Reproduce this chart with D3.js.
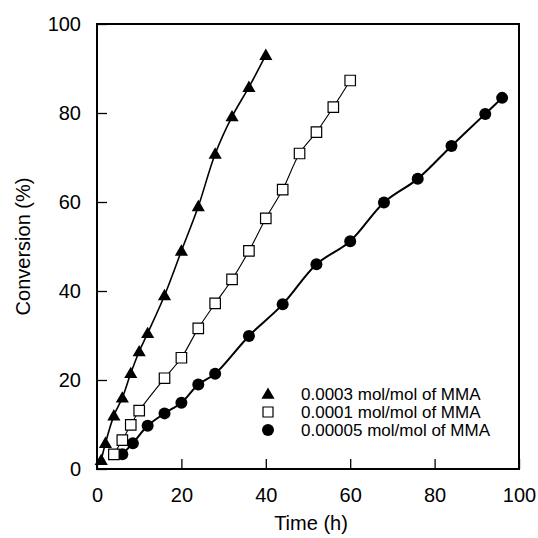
<!DOCTYPE html>
<html>
<head>
<meta charset="utf-8">
<script src="https://cdn.jsdelivr.net/npm/d3@7"></script>
<style>
  html, body { margin: 0; padding: 0; background: #fff; }
  svg { display: block; font-family: "Liberation Sans", Arial, sans-serif; }
</style>
</head>
<body>
<div id="chart"></div>
<script>
// series: [time (h), conversion (%)]
const highInit = [[1,2],[2,5.8],[4,12],[6,16],[8,21.5],[10,26.4],[12,30.5],[16,39],[20,49],[24,59],[28,70.8],[32,79.2],[36,85.8],[40,93]];
const midInit = [[4,3.3],[6,6.5],[8,9.9],[10,13.1],[16,20.4],[20,25],[24,31.6],[28,37.2],[32,42.6],[36,49],[40,56.3],[44,62.8],[48,70.9],[52,75.7],[56,81.3],[60,87.3]];
const lowInit = [[6,3.3],[8.5,5.8],[12,9.7],[16,12.5],[20,14.9],[24,19],[28,21.4],[36,29.9],[44,37],[52,46],[60,51.2],[68,59.9],[76,65.2],[84,72.6],[92,79.8],[96,83.4]];

const legendLabels = ["0.0003 mol/mol of MMA", "0.0001 mol/mol of MMA", "0.00005 mol/mol of MMA"];
const xTicks = [0, 20, 40, 60, 80, 100];
const yTicks = [0, 20, 40, 60, 80, 100];

const width = 538, height = 538;
const margin = {top: 24, right: 19, bottom: 69, left: 97};

const x = d3.scaleLinear().domain([0, 100]).range([margin.left, width - margin.right]);
const y = d3.scaleLinear().domain([0, 100]).range([height - margin.bottom, margin.top]);

const svg = d3.select("#chart").append("svg")
    .attr("width", width)
    .attr("height", height);

// x axis, ticks pointing inward
svg.append("g")
    .attr("transform", `translate(0,${height - margin.bottom})`)
    .call(d3.axisBottom(x).tickValues(xTicks).tickSizeInner(-10).tickSizeOuter(0).tickPadding(19))
    .call(g => g.select(".domain").remove())
    .call(g => g.selectAll("line").attr("stroke-width", 1.3))
    .call(g => g.selectAll("text").attr("font-size", 20).attr("fill", "#000").attr("font-family", "Liberation Sans, Arial, sans-serif"));

svg.append("g")
    .attr("transform", `translate(${margin.left},0)`)
    .call(d3.axisLeft(y).tickValues(yTicks).tickSizeInner(-10).tickSizeOuter(0).tickPadding(16))
    .call(g => g.select(".domain").remove())
    .call(g => g.selectAll("line").attr("stroke-width", 1.3))
    .call(g => g.selectAll("text").attr("font-size", 20).attr("fill", "#000").attr("font-family", "Liberation Sans, Arial, sans-serif"));

// frame
svg.append("rect")
    .attr("x", x(0)).attr("y", y(100))
    .attr("width", x(100) - x(0)).attr("height", y(0) - y(100))
    .attr("fill", "none").attr("stroke", "#000").attr("stroke-width", 2);

// axis titles
svg.append("text")
    .attr("x", (x(0) + x(100)) / 2 + 3)
    .attr("y", 530)
    .attr("text-anchor", "middle")
    .attr("font-size", 20)
    .text("Time (h)");

svg.append("text")
    .attr("transform", `translate(30,${(y(0) + y(100)) / 2}) rotate(-90)`)
    .attr("text-anchor", "middle")
    .attr("font-size", 20)
    .text("Conversion (%)");

const line = d3.line()
    .x(d => x(d[0]))
    .y(d => y(d[1]))
    .curve(d3.curveCatmullRom.alpha(0.5));

const tri = d3.symbol().type(d3.symbolTriangle).size(75);
const sq = d3.symbol().type(d3.symbolSquare).size(110);

// lines
svg.append("path").datum(highInit).attr("d", line)
    .attr("fill", "none").attr("stroke", "#000").attr("stroke-width", 1.6);
svg.append("path").datum(midInit).attr("d", line)
    .attr("fill", "none").attr("stroke", "#000").attr("stroke-width", 1.1);
svg.append("path").datum(lowInit).attr("d", line)
    .attr("fill", "none").attr("stroke", "#000").attr("stroke-width", 2);

// markers
svg.append("g").selectAll("circle")
    .data(lowInit)
    .join("circle")
    .attr("cx", d => x(d[0]))
    .attr("cy", d => y(d[1]))
    .attr("r", 6)
    .attr("fill", "#000");

svg.append("g").selectAll("path")
    .data(midInit)
    .join("path")
    .attr("transform", d => `translate(${x(d[0])},${y(d[1])})`)
    .attr("d", sq)
    .attr("fill", "#fff")
    .attr("stroke", "#000")
    .attr("stroke-width", 1.2);

svg.append("g").selectAll("path")
    .data(highInit)
    .join("path")
    .attr("transform", d => `translate(${x(d[0])},${y(d[1]) + 1})`)
    .attr("d", tri)
    .attr("fill", "#000");

// legend
const legend = svg.append("g").attr("font-size", 17);
const legendY = [394, 412, 430];
const legendSym = [
  g => g.append("path").attr("d", tri).attr("transform", "translate(0,1)").attr("fill", "#000"),
  g => g.append("path").attr("d", d3.symbol().type(d3.symbolSquare).size(100)).attr("fill", "#fff").attr("stroke", "#000").attr("stroke-width", 1.2),
  g => g.append("circle").attr("r", 6).attr("fill", "#000")
];
legendLabels.forEach((label, i) => {
  const g = legend.append("g").attr("transform", `translate(268,${legendY[i]})`);
  legendSym[i](g);
  g.append("text").attr("x", 33).attr("dy", "0.36em").text(label);
});
</script>
</body>
</html>
